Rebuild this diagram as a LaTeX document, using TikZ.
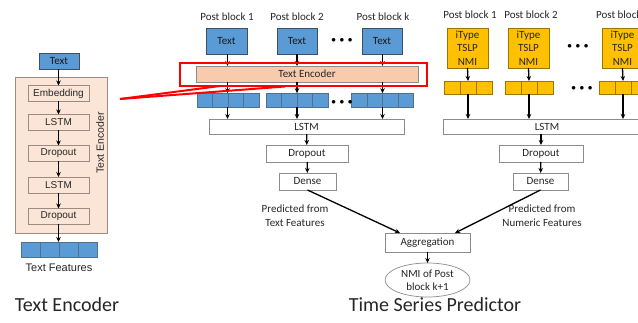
\documentclass[tikz,border=0pt]{standalone}
\usepackage{fontspec}
\setmainfont{Carlito}
\newfontfamily\arialf{Liberation Sans}
\usetikzlibrary{arrows.meta,shapes.geometric}
\definecolor{bluef}{HTML}{5B9BD5}
\definecolor{bluebd}{HTML}{3F4F5F}
\definecolor{cellbd}{HTML}{52708C}
\definecolor{yelf}{HTML}{FFC000}
\definecolor{yelbd}{HTML}{9C7400}
\definecolor{peach}{HTML}{F8CBAD}
\definecolor{pinkbg}{HTML}{FBE5D6}
\definecolor{pinkbd}{HTML}{9E8A7E}
\definecolor{graybd}{HTML}{8C8C8C}
\newcommand\smf{\fontsize{11}{13.5}\selectfont}
\newcommand\bigf{\fontsize{20}{24}\selectfont}
\begin{document}
\begin{tikzpicture}[x=1pt,y=-1pt,
  every node/.style={inner sep=0pt, outer sep=0pt},
  lbl/.style={font=\smf, text=black!85},
  wbox/.style={draw=graybd, fill=white, line width=0.7pt, font=\smf, text=black!85},
  pbox/.style={draw=pinkbd, fill=pinkbg, line width=0.7pt, font=\arialf\fontsize{10}{12}\selectfont, text=black!85, minimum width=61pt, minimum height=16pt},
  tbox/.style={draw=bluebd, fill=bluef, line width=0.7pt, font=\smf, text=black!90, minimum width=41pt, minimum height=26pt},
  ybox/.style={draw=yelbd, fill=yelf, line width=0.7pt, font=\fontsize{11}{13.5}\selectfont, text=black!85, minimum width=41pt, minimum height=40pt, align=center},
  bcell/.style={draw=cellbd, fill=bluef, line width=0.6pt, minimum width=15.5pt, minimum height=14pt},
  ycell/.style={draw=yelbd, fill=yelf, line width=0.6pt, minimum width=16pt, minimum height=13pt},
  arr/.style={-{Stealth[length=5pt,width=4.5pt]}, line width=1.3pt, black},
  redl/.style={draw=red, line width=2pt},
  dots/.style={font=\fontsize{9}{9}\selectfont}
]
\useasboundingbox (0,0) rectangle (638,323);
\clip (0,0) rectangle (638,323);

% ---------------- left: text encoder ----------------
\node[draw=pinkbd, fill=pinkbg, line width=0.7pt, minimum width=92pt, minimum height=156pt] (encbg) at (61,155) {};
\node[tbox, minimum width=40pt, minimum height=16pt] (ltext) at (59,61) {Text};
\node[pbox] (emb) at (58.5,93.5) {Embedding};
\node[pbox] (lstma) at (58.5,122.5) {LSTM};
\node[pbox] (dropa) at (58.5,153.5) {Dropout};
\node[pbox] (lstmb) at (58.5,185) {LSTM};
\node[pbox] (dropb) at (58.5,216.5) {Dropout};
\node[font=\arialf\fontsize{10.5}{12}\selectfont, rotate=90, text=black!85] (encv) at (100,143) {Text Encoder};
\foreach \i/\x in {1/30.5,2/49.5,3/68.5,4/87.5}
  \node[bcell, minimum width=19pt, minimum height=15pt] (lf\i) at (\x,249.5) {};
\node[font=\arialf\fontsize{11}{13}\selectfont, text=black!85] (lfl) at (59,268) {Text Features};
\draw[arr] (ltext.south -| emb.north) -- (emb.north);
\draw[arr] (emb) -- (lstma);
\draw[arr] (lstma) -- (dropa);
\draw[arr] (dropa) -- (lstmb);
\draw[arr] (lstmb) -- (dropb);
\draw[arr] (dropb.south) -- (dropb.south |- lf2.north);

% ---------------- middle: text branch ----------------
\node[lbl] (pb1) at (227,17) {Post block 1};
\node[lbl] (pb2) at (297,17) {Post block 2};
\node[lbl] (pbk) at (383,17) {Post block k};
\node[tbox] (t1) at (226.5,41) {Text};
\node[tbox, minimum width=40pt] (t2) at (297,41) {Text};
\node[tbox, minimum width=40pt] (tk) at (382,41) {Text};
\node[dots] (d1) at (342,40) {$\bullet\,\bullet\,\bullet$};
\node[draw=graybd, fill=peach, line width=0.7pt, minimum width=222pt, minimum height=16pt, font=\smf, text=black!85] (enc) at (307,74) {Text Encoder};
\foreach \i in {1,...,4} {
  \node[bcell] (a\i) at (197+15.5*\i-7.75,100.2) {};
  \node[bcell] (b\i) at (266+15.5*\i-7.75,100.2) {};
  \node[bcell] (c\i) at (351.5+15.5*\i-7.75,100.2) {};
}
\node[dots] (d2) at (342,102) {$\bullet\,\bullet\,\bullet$};
\node[wbox, minimum width=195pt, minimum height=15pt] (lstmm) at (306.5,126.5) {LSTM};
\node[wbox, minimum width=82pt, minimum height=17pt] (dropm) at (307,153.5) {Dropout};
\node[wbox, minimum width=57pt, minimum height=17pt] (densem) at (307.5,181.5) {Dense};
\node[lbl, align=center, font=\fontsize{11}{14}\selectfont] (predt) at (295,216) {Predicted from\\Text Features};

\coordinate (x1) at (227.5,0);
\coordinate (x2) at (297,0);
\coordinate (x3) at (382.5,0);
\foreach \t/\c/\x in {t1/a2/x1, t2/b2/x2, tk/c2/x3} {
  \draw[arr] (\t.south -| \x) -- (enc.north -| \x);
  \draw[arr] (enc.south -| \x) -- (\c.north -| \x);
  \draw[arr] (\c.south -| \x) -- (lstmm.north -| \x);
}
\draw[arr] (lstmm) -- (dropm);
\draw[arr] (dropm) -- (densem);

% red callout
\node[draw=red, line width=2pt, minimum width=247pt, minimum height=23pt] (redbox) at (303.5,74.5) {};
\coordinate (rp) at (120,99);
\coordinate (ra) at (220,86);
\coordinate (rb) at (285,86.5);
\draw[redl] (rp) -- (ra);
\draw[redl] (rp) -- (rb);

% ---------------- right: numeric branch ----------------
\node[lbl] (qb1) at (470,15) {Post block 1};
\node[lbl] (qb2) at (531,15) {Post block 2};
\node[lbl] (qbk) at (622.5,15) {Post block k};
\node[ybox] (y1) at (467.5,48) {iType\\TSLP\\NMI};
\node[ybox] (y2) at (528.5,48) {iType\\TSLP\\NMI};
\node[ybox] (yk) at (622.5,48) {iType\\TSLP\\NMI};
\node[dots] (d3) at (578,46) {$\bullet\,\bullet\,\bullet$};
\foreach \i in {1,...,3} {
  \node[ycell] (p\i) at (444+16*\i-8,87.5) {};
  \node[ycell] (q\i) at (505+16*\i-8,87.5) {};
  \node[ycell] (r\i) at (599+16*\i-8,87.5) {};
}
\node[dots] (d4) at (582,88) {$\bullet\,\bullet\,\bullet$};
\node[wbox, minimum width=208pt, minimum height=15pt] (lstmr) at (547,126.5) {LSTM};
\node[wbox, minimum width=84pt, minimum height=17pt] (dropr) at (541,153.5) {Dropout};
\node[wbox, minimum width=55pt, minimum height=17pt] (denser) at (540.5,181.5) {Dense};
\node[lbl, align=center, font=\fontsize{11}{14}\selectfont] (predn) at (542,216) {Predicted from\\Numeric Features};
\foreach \t/\c in {y1/p2, y2/q2, yk/r2} {
  \draw[arr] (\t.south) -- (\c.north);
  \draw[arr] (\c.south) -- (\c.south |- lstmr.north);
}
\draw[arr] (lstmr.south -| dropr.north) -- (dropr.north);
\draw[arr] (dropr) -- (denser);

% ---------------- aggregation ----------------
\node[wbox, minimum width=85pt, minimum height=19pt] (agg) at (427.5,242.5) {Aggregation};
\node[ellipse, draw=graybd, fill=white, line width=0.7pt, minimum width=85pt, minimum height=34pt, align=center, font=\fontsize{11}{13}\selectfont, text=black!85] (nmi) at (427.5,280) {NMI of Post\\block k+1};
\draw[arr] (densem.south) -- ([xshift=-27.5pt]agg.north);
\draw[arr] (denser.south) -- ([xshift=27.5pt]agg.north);
\draw[arr] (agg) -- (nmi);

% titles
\node[font=\bigf, text=black!85] (tl) at (67,305) {Text Encoder};
\node[font=\bigf, text=black!85] (tr) at (435,305) {Time Series Predictor};
\end{tikzpicture}
\end{document}
